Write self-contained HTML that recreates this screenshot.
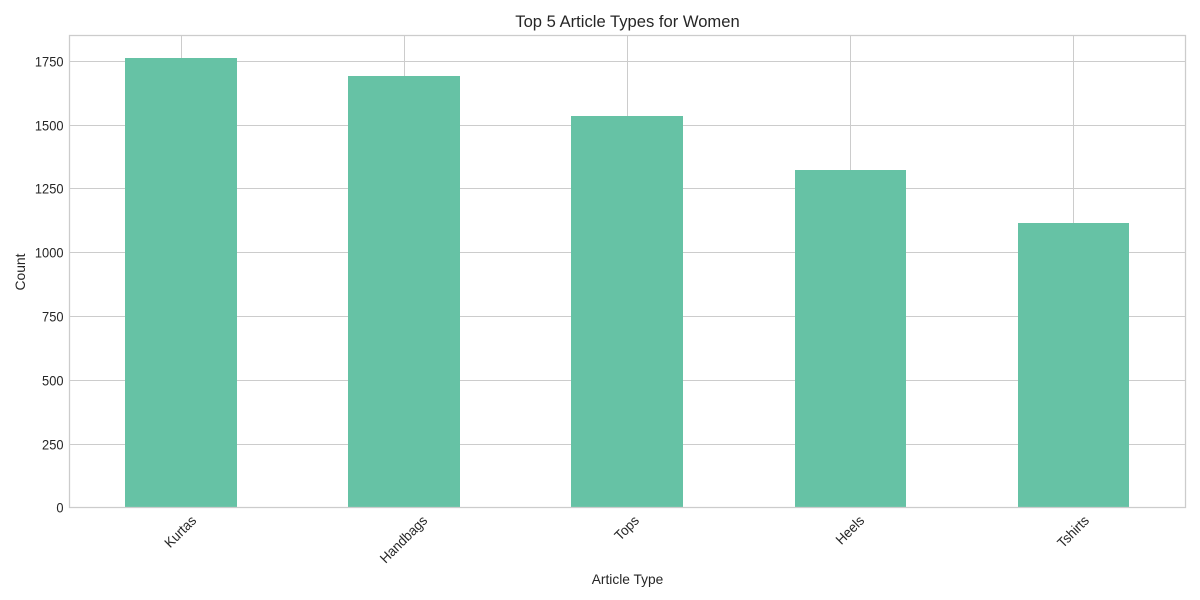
<!DOCTYPE html>
<html>
<head>
<meta charset="utf-8">
<style>
html,body{margin:0;padding:0;background:#fff;}
svg{display:block;}
text{font-family:"Liberation Sans",Arial,sans-serif;fill:#262626;}
</style>
</head>
<body>
<svg id="chart" xmlns="http://www.w3.org/2000/svg" width="1200" height="600" viewBox="0 0 1200 600">
  <rect x="0" y="0" width="1200" height="600" fill="#ffffff"/>
  <g id="grid"></g>
  <g id="bars"></g>
  <rect x="69.5" y="35.5" width="1116" height="472" fill="none" stroke="#cccccc" stroke-width="1.25"/>
  <g id="yticks"></g>
  <g id="xticks"></g>
  <text x="627.5" y="27" font-size="16.6" text-anchor="middle">Top 5 Article Types for Women</text>
  <text x="627.5" y="584" font-size="13.9" text-anchor="middle" textLength="71.5" lengthAdjust="spacingAndGlyphs">Article Type</text>
  <text transform="translate(25,272) rotate(-90)" font-size="13.9" text-anchor="middle" textLength="37" lengthAdjust="spacingAndGlyphs">Count</text>
</svg>
<script>
const categories = ["Kurtas", "Handbags", "Tops", "Heels", "Tshirts"];
const counts = [1761, 1690, 1534, 1322, 1114];
const yTickValues = [0, 250, 500, 750, 1000, 1250, 1500, 1750];

const NS = "http://www.w3.org/2000/svg";
const plot = { left: 69.5, right: 1185.5, top: 35.9, bottom: 507.9 };
const yMax = Math.max.apply(null, counts) * 1.05;
function xScale(i) {
  return plot.left + (i + 0.5) * (plot.right - plot.left) / categories.length;
}
function yScale(v) {
  return plot.bottom - v / yMax * (plot.bottom - plot.top);
}
const bandWidth = (plot.right - plot.left) / categories.length;
const barWidth = bandWidth * 0.5;
const barBase = 507;

function make(tag, attrs, parent) {
  const el = document.createElementNS(NS, tag);
  for (const k in attrs) el.setAttribute(k, attrs[k]);
  parent.appendChild(el);
  return el;
}
function squeeze(t, factor) {
  const len = t.getComputedTextLength() * factor;
  t.setAttribute("textLength", len);
  t.setAttribute("lengthAdjust", "spacingAndGlyphs");
  return len;
}

const gridG = document.getElementById("grid");
const barsG = document.getElementById("bars");
const yG = document.getElementById("yticks");
const xG = document.getElementById("xticks");

yTickValues.forEach(function (v) {
  const y = Math.floor(yScale(v)) + 0.5;
  if (v > 0) {
    const line = make("line", { x1: plot.left, x2: plot.right, y1: y, y2: y, stroke: "#cccccc", "stroke-width": 1 }, gridG);
    
    
  }
  const t = make("text", { x: 63.5, y: y + 4.8, "font-size": 13.9, "text-anchor": "end" }, yG);
  
  
  t.textContent = String(v);
  squeeze(t, 0.925);
});

categories.forEach(function (c, i) {
  const cx = xScale(i);
  const gx = Math.round(cx - 0.5) + 0.5;
  const line = make("line", { x1: gx, x2: gx, y1: plot.top, y2: plot.bottom - 0.4, stroke: "#cccccc", "stroke-width": 1 }, gridG);
  
  

  const x0 = Math.floor(cx - barWidth / 2 + 0.25);
  const x1 = Math.floor(cx + barWidth / 2 + 0.25);
  const top = Math.floor(yScale(counts[i]));
  const bar = make("rect", { x: x0, y: top, width: x1 - x0, height: barBase - top, fill: "#66c2a5" }, barsG);
  
  

  const t = make("text", { "font-size": 13.9, "text-anchor": "middle", "dominant-baseline": "central" }, xG);
  
  
  t.textContent = c;
  const len = squeeze(t, 0.95);
  const half = (len + 14) * Math.SQRT1_2 / 2;
  const cy = 513 + half;
  t.setAttribute("transform", "translate(" + (cx - 1) + "," + cy + ") rotate(-45)");
});
</script>
</body>
</html>
